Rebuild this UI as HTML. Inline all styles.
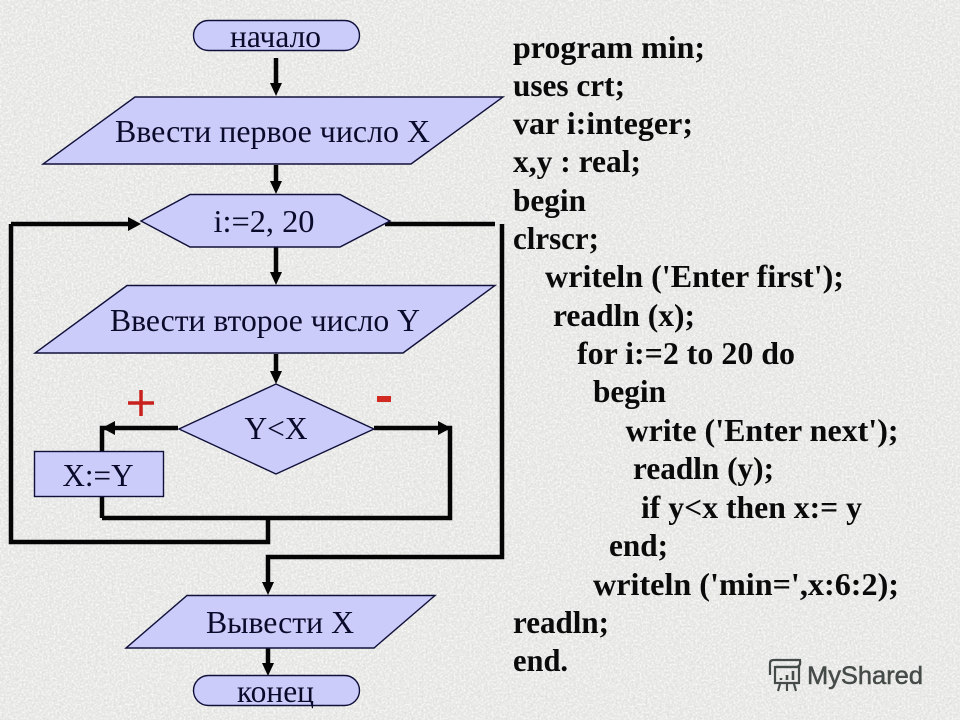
<!DOCTYPE html>
<html><head><meta charset="utf-8"><style>
html,body{margin:0;padding:0;background:#e8e8e6;width:960px;height:720px;overflow:hidden}
svg{display:block}
.s{fill:#ccccfb;stroke:#10103a;stroke-width:1.4}
.l{fill:none;stroke:#050505;stroke-width:4.5;stroke-linejoin:miter}
.t{font-family:"Liberation Serif",serif;font-size:32px;fill:#0a0a2a;text-anchor:middle}
.c{font-family:"Liberation Serif",serif;font-weight:bold;font-size:32px;fill:#0a0a0a}
</style></head><body>
<svg width="960" height="720" viewBox="0 0 960 720" xmlns="http://www.w3.org/2000/svg">
<defs>
<filter id="n" x="0" y="0" width="100%" height="100%">
<feTurbulence type="fractalNoise" baseFrequency="0.42" numOctaves="3" seed="4"/>
<feColorMatrix type="matrix" values="0 0 0 0 0.66 0 0 0 0 0.66 0 0 0 0 0.64 3.2 0 0 0 -1.65"/>
</filter>
<filter id="w" x="0" y="0" width="100%" height="100%">
<feTurbulence type="fractalNoise" baseFrequency="0.5" numOctaves="2" seed="11"/>
<feColorMatrix type="matrix" values="0 0 0 0 1 0 0 0 0 1 0 0 0 0 1 0 3.2 0 0 -1.35"/>
</filter>
</defs>
<rect width="960" height="720" fill="#e6e6e4"/>
<rect width="960" height="720" filter="url(#n)" opacity=".6"/>
<rect width="960" height="720" filter="url(#w)" opacity=".7"/>

<!-- connectors -->
<path class="l" d="M276 58V84M276 165V182M276 247V273M276 354V372"/>
<path class="l" d="M11 224H130M11 224V542H268V518M102 518H450V428H440M102 518V428H115M178 428H115M374 428H440M385 224H495M502 224V557H268V584M268 645V664"/>
<g fill="#050505">
<path d="M270 83H282L276 96Z"/><path d="M270 181H282L276 194Z"/><path d="M270 272H282L276 285Z"/><path d="M270 371H282L276 384Z"/>
<path d="M128 217L141 224L128 231Z"/><path d="M115 421L102 428L115 435Z"/><path d="M438 421L451 428L438 435Z"/>
<path d="M262 582H274L268 595Z"/><path d="M262 663H274L268 676Z"/>
</g>

<!-- shapes -->
<rect class="s" x="193.500" y="20.500" width="166" height="30" rx="15"/>
<path class="s" d="M135 97H503L411 164H43Z"/>
<path class="s" d="M190 194.500H340L390 221L340 247H190L141 221Z"/>
<path class="s" d="M127 285.500H495L403 353H35Z"/>
<path class="s" d="M276 384L374 429L276 474L179 429Z"/>
<rect class="s" x="34.500" y="451.500" width="129" height="45"/>
<path class="s" d="M187 595.500H435L374 648H126Z"/>
<rect class="s" x="193.500" y="675.500" width="166" height="30" rx="15"/>

<!-- labels -->
<text class="t" x="275.500" y="47" textLength="91" lengthAdjust="spacingAndGlyphs">начало</text>
<text class="t" x="272.500" y="142" textLength="315" lengthAdjust="spacingAndGlyphs">Ввести первое число X</text>
<text class="t" x="264" y="232" textLength="101" lengthAdjust="spacingAndGlyphs">i:=2, 20</text>
<text class="t" x="265" y="331" textLength="310" lengthAdjust="spacingAndGlyphs">Ввести второе число Y</text>
<text class="t" x="276" y="439" textLength="63" lengthAdjust="spacingAndGlyphs">Y&lt;X</text>
<text class="t" x="98" y="486" textLength="71" lengthAdjust="spacingAndGlyphs">X:=Y</text>
<text class="t" x="280" y="633" textLength="148" lengthAdjust="spacingAndGlyphs">Вывести X</text>
<text class="t" x="275.500" y="702" textLength="77" lengthAdjust="spacingAndGlyphs">конец</text>

<!-- plus / minus -->
<path d="M128 403H154M141 390V416" stroke="#c8201c" stroke-width="3.5" fill="none"/>
<rect x="377" y="396" width="14" height="6" fill="#d02a22"/>

<!-- code -->
<text class="c" x="513" y="58" textLength="192" lengthAdjust="spacingAndGlyphs">program min;</text>
<text class="c" x="513" y="96" textLength="112" lengthAdjust="spacingAndGlyphs">uses crt;</text>
<text class="c" x="513" y="134" textLength="180" lengthAdjust="spacingAndGlyphs">var i:integer;</text>
<text class="c" x="513" y="172" textLength="128" lengthAdjust="spacingAndGlyphs">x,y : real;</text>
<text class="c" x="513" y="211" textLength="73" lengthAdjust="spacingAndGlyphs">begin</text>
<text class="c" x="513" y="249" textLength="86" lengthAdjust="spacingAndGlyphs">clrscr;</text>
<text class="c" x="545" y="287" textLength="299" lengthAdjust="spacingAndGlyphs">writeln ('Enter first');</text>
<text class="c" x="553" y="326" textLength="142" lengthAdjust="spacingAndGlyphs">readln (x);</text>
<text class="c" x="577" y="364" textLength="218" lengthAdjust="spacingAndGlyphs">for i:=2 to 20 do</text>
<text class="c" x="593" y="402" textLength="73" lengthAdjust="spacingAndGlyphs">begin</text>
<text class="c" x="625.500" y="441" textLength="273" lengthAdjust="spacingAndGlyphs">write ('Enter next');</text>
<text class="c" x="633" y="479" textLength="141" lengthAdjust="spacingAndGlyphs">readln (y);</text>
<text class="c" x="641" y="518" textLength="221" lengthAdjust="spacingAndGlyphs">if y&lt;x then x:= y</text>
<text class="c" x="609" y="556" textLength="59" lengthAdjust="spacingAndGlyphs">end;</text>
<text class="c" x="593" y="595" textLength="306" lengthAdjust="spacingAndGlyphs">writeln ('min=',x:6:2);</text>
<text class="c" x="513" y="633" textLength="96" lengthAdjust="spacingAndGlyphs">readln;</text>
<text class="c" x="513" y="671" textLength="55" lengthAdjust="spacingAndGlyphs">end.</text>

<!-- watermark -->
<g fill="none" stroke="#454b48" stroke-width="2.2">
<path d="M770 675V663Q770 660 774 660H800Q801 666 797 667H776"/>
<rect x="775" y="667" width="24" height="16"/>
<path d="M780 684L778 691M787 684V691M794 684L796 691"/>
<path d="M781 680V678M787 680V675M793 680V671" stroke-width="2.6"/>
</g>
<text x="807" y="684" font-family="'Liberation Sans',sans-serif" font-size="25" fill="#454b48" stroke="#454b48" stroke-width=".5" textLength="116" lengthAdjust="spacingAndGlyphs">MyShared</text>
</svg>
</body></html>
